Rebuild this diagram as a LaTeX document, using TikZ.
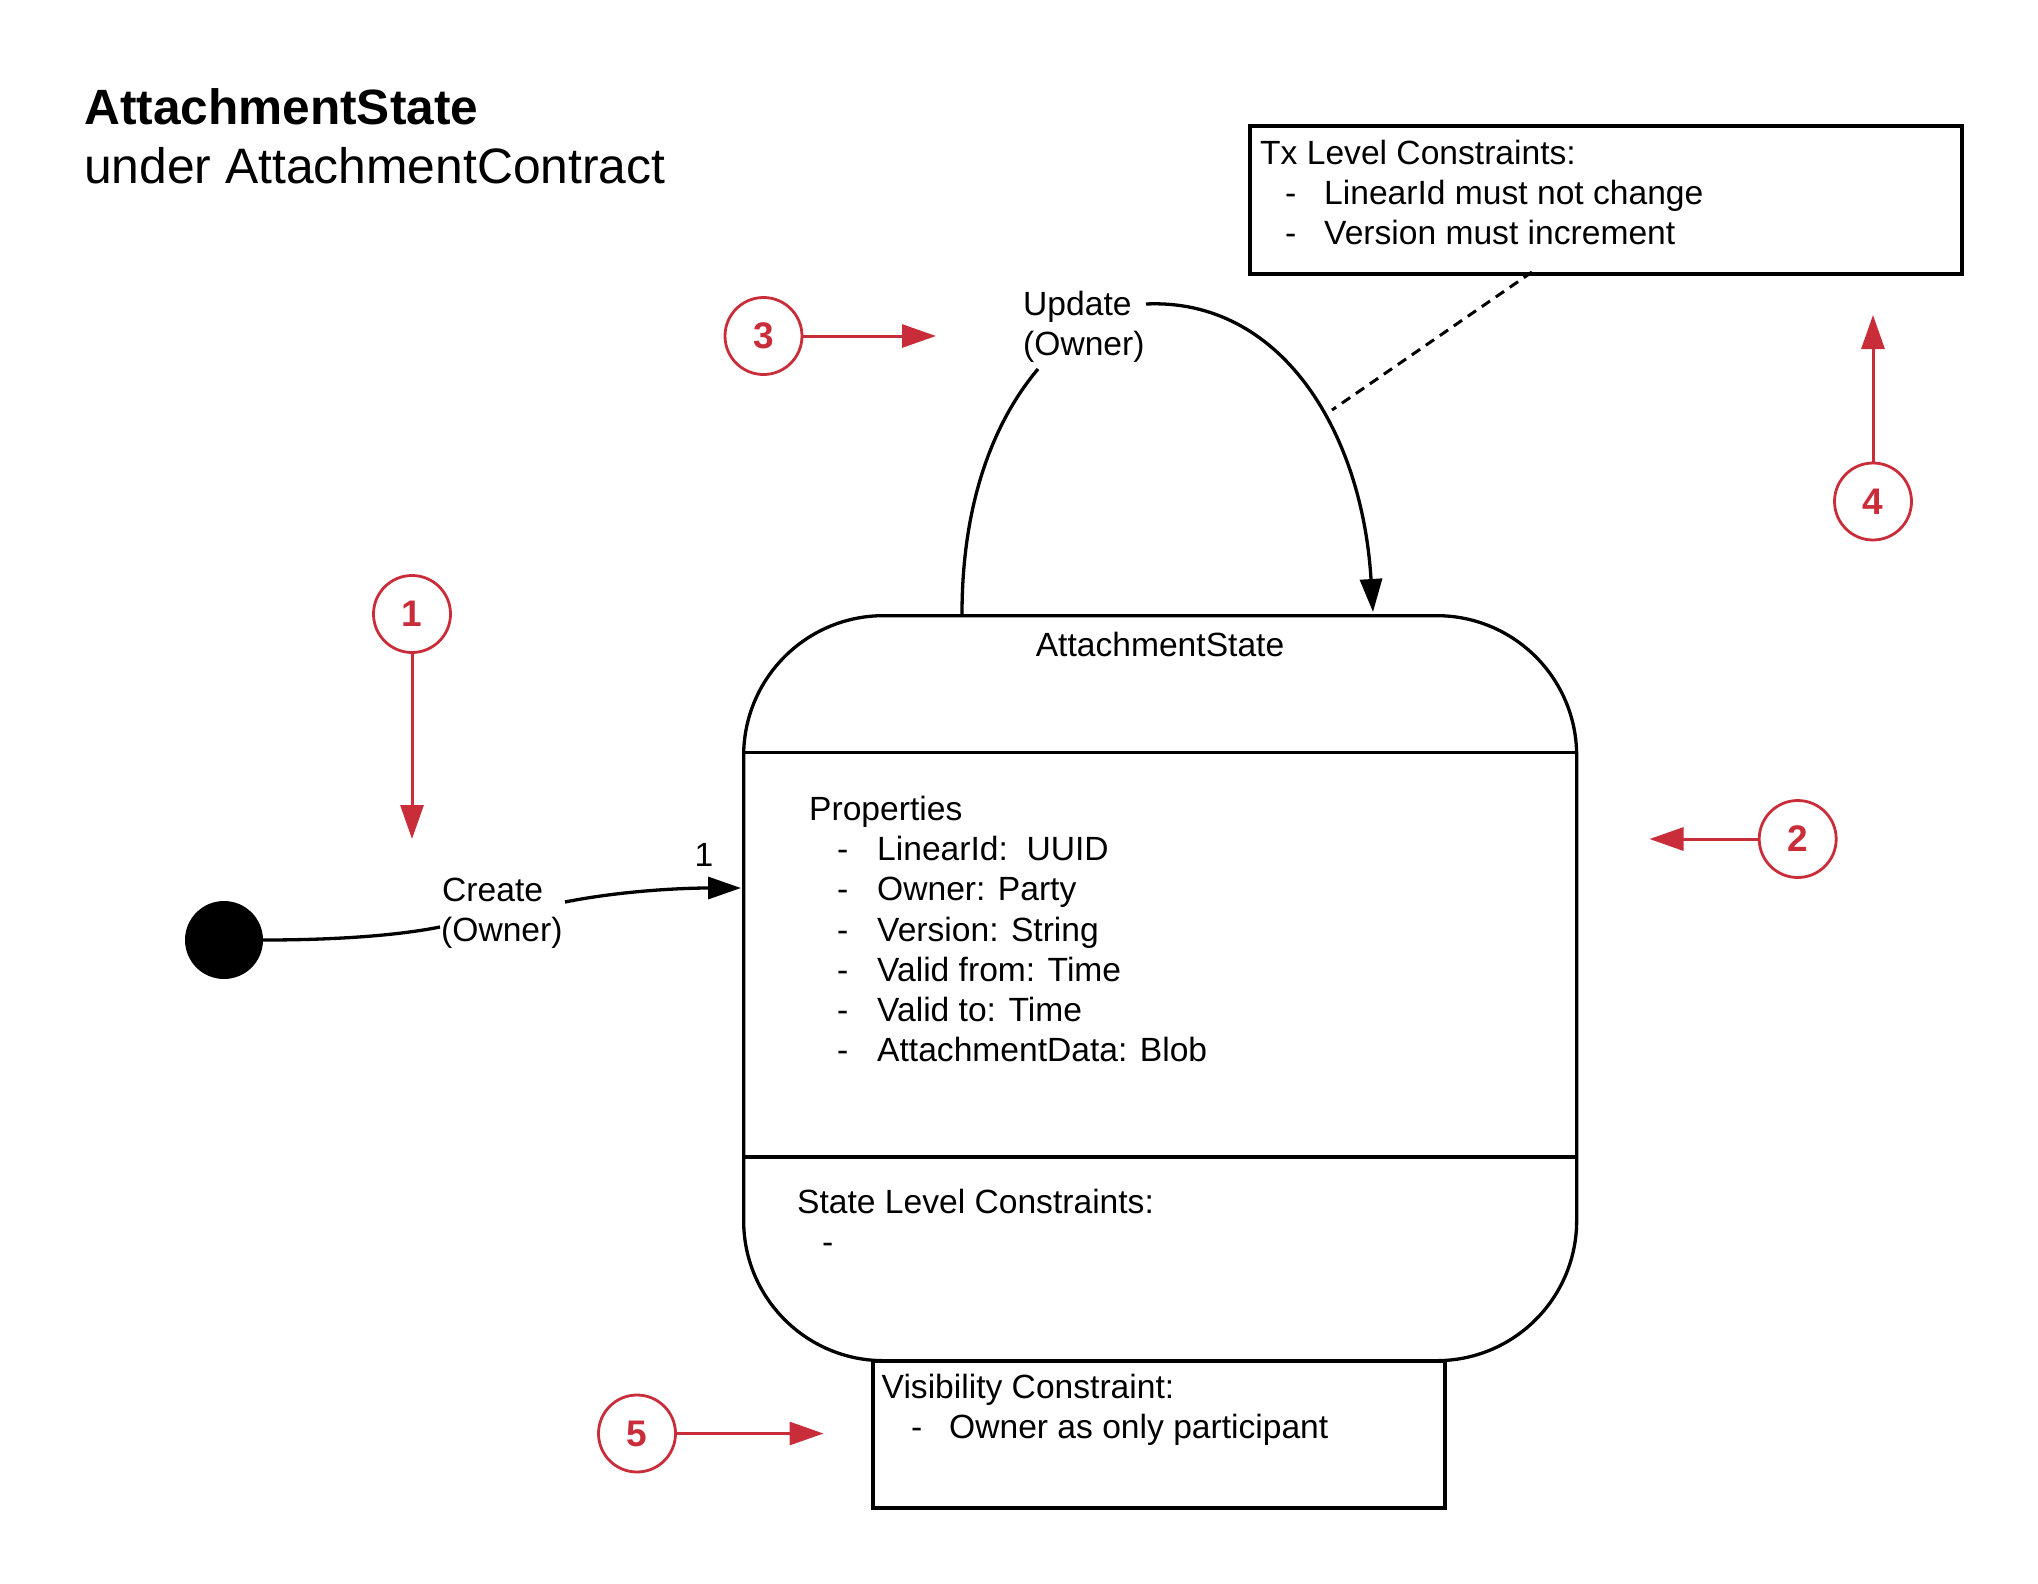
\documentclass[tikz,border=0pt]{standalone}
\usepackage{fontspec}
\setmainfont{Liberation Sans}
\usetikzlibrary{arrows.meta}
\definecolor{lred}{RGB}{201,45,57}
\begin{document}
\begin{tikzpicture}[x=1pt,y=-1pt,
  txt/.style={anchor=base west, inner sep=0pt, font=\fontsize{33.6}{40}\selectfont},
  numc/.style={circle, draw=lred, line width=2.8pt, minimum size=77pt, inner sep=0pt, text=lred, font=\bfseries\fontsize{37}{37}\selectfont},
  redarrow/.style={draw=lred, line width=3pt, -{Triangle[length=34pt,width=23pt]}},
  blkarrow/.style={line width=3.3pt, -{Triangle[length=33pt,width=22pt]}},
  conn/.style={line width=3.3pt},
  boxnode/.style={draw, line width=4pt, inner sep=0pt, anchor=north west}
]
\useasboundingbox (0,0) rectangle (2038,1583);

% title
\node[anchor=base west, inner sep=0pt, font=\bfseries\fontsize{49.6}{55}\selectfont] (title) at (84,124) {AttachmentState};
\node[anchor=base west, inner sep=0pt, font=\fontsize{49.8}{55}\selectfont] (subtitle) at (84,183.6) {under AttachmentContract};

% Tx constraints box
\node[boxnode, minimum width=712pt, minimum height=148pt] (tx) at (1248,124) {};
\node[txt] (txh) at (1260,164) {Tx Level Constraints:};
\node[txt] (txd1) at (1285,204) {-};
\node[txt] (txi1) at (1324,204) {LinearId must not change};
\node[txt] (txd2) at (1285,244) {-};
\node[txt] (txi2) at (1324,244) {Version must increment};

% state
\node[draw, line width=3.3pt, rounded corners=140pt, minimum width=833pt, minimum height=745pt, anchor=north west, inner sep=0pt] (state) at (742,614) {};
\draw[conn] (742,752.5) -- (1575,752.5);
\draw[conn] (742,1157) -- (1575,1157);
\node[txt, anchor=base] (sname) at (1160,656) {AttachmentState};
\node[txt] (props) at (809,820) {Properties};
\node[txt] (pd1) at (837,860.5) {-};
\node[txt] (pi1) at (877,860.5) {LinearId:\ \ UUID};
\node[txt] (pd2) at (837,900.7) {-};
\node[txt] (pi2) at (877,900.7) {Owner: Party};
\node[txt] (pd3) at (837,941) {-};
\node[txt] (pi3) at (877,941) {Version: String};
\node[txt] (pd4) at (837,981) {-};
\node[txt] (pi4) at (877,981) {Valid from: Time};
\node[txt] (pd5) at (837,1021) {-};
\node[txt] (pi5) at (877,1021) {Valid to: Time};
\node[txt] (pd6) at (837,1061.5) {-};
\node[txt] (pi6) at (877,1061.5) {AttachmentData: Blob};
\node[txt] (sc) at (797,1213) {State Level Constraints:};
\node[txt] (scd) at (822,1253) {-};

% visibility box
\node[boxnode, line width=3.8pt, minimum width=572pt, minimum height=147pt] (vis) at (871,1359) {};
\node[txt] (vh) at (881.5,1398) {Visibility Constraint:};
\node[txt] (vd) at (911,1438) {-};
\node[txt] (vi) at (949,1438) {Owner as only participant};

% initial state and create transition
\node[circle, fill=black, minimum size=78pt, inner sep=0pt] (init) at (224,940) {};
\node[txt] (cr1) at (442,901.7) {Create};
\node[txt] (cr2) at (441,941.7) {(Owner)};
\node[txt] (one) at (694.5,866.7) {1};
\coordinate (cL) at (440,927);
\coordinate (cR) at (565,902);
\coordinate (cIn) at (741,888);
\draw[conn] (init.east) .. controls (340,940) and (400,935) .. (cL);
\draw[blkarrow] (cR) .. controls (620,891) and (680,888) .. (cIn);

% update transition
\node[txt] (up1) at (1023,315) {Update};
\node[txt] (up2) at (1023,355) {(Owner)};
\coordinate (uOut) at (962,614);
\coordinate (uL) at (1038,369);
\coordinate (uR) at (1146,304);
\coordinate (uIn) at (1373,612);
\draw[conn] (uOut) .. controls (962,500) and (995,420) .. (uL);
\draw[blkarrow] (uR) .. controls (1280,298) and (1362,430) .. (uIn);

% dashed link
\coordinate (dA) at (1532,272);
\coordinate (dB) at (1332,410);
\draw[line width=3pt, dash pattern=on 10pt off 7pt] (dA) -- (dB);

% numbered markers
\node[numc] (n1) at (412,614) {1};
\coordinate (a1) at (412,839);
\draw[redarrow] (n1) -- (a1);
\node[numc] (n2) at (1797.7,839) {2};
\coordinate (a2) at (1649.5,839);
\draw[redarrow] (n2) -- (a2);
\node[numc] (n3) at (763.5,336) {3};
\coordinate (a3) at (936,336);
\draw[redarrow] (n3) -- (a3);
\node[numc] (n4) at (1873,501.5) {4};
\coordinate (a4) at (1873,315);
\draw[redarrow] (n4) -- (a4);
\node[numc] (n5) at (637,1433.5) {5};
\coordinate (a5) at (823.5,1433.5);
\draw[redarrow] (n5) -- (a5);
\end{tikzpicture}
\end{document}
